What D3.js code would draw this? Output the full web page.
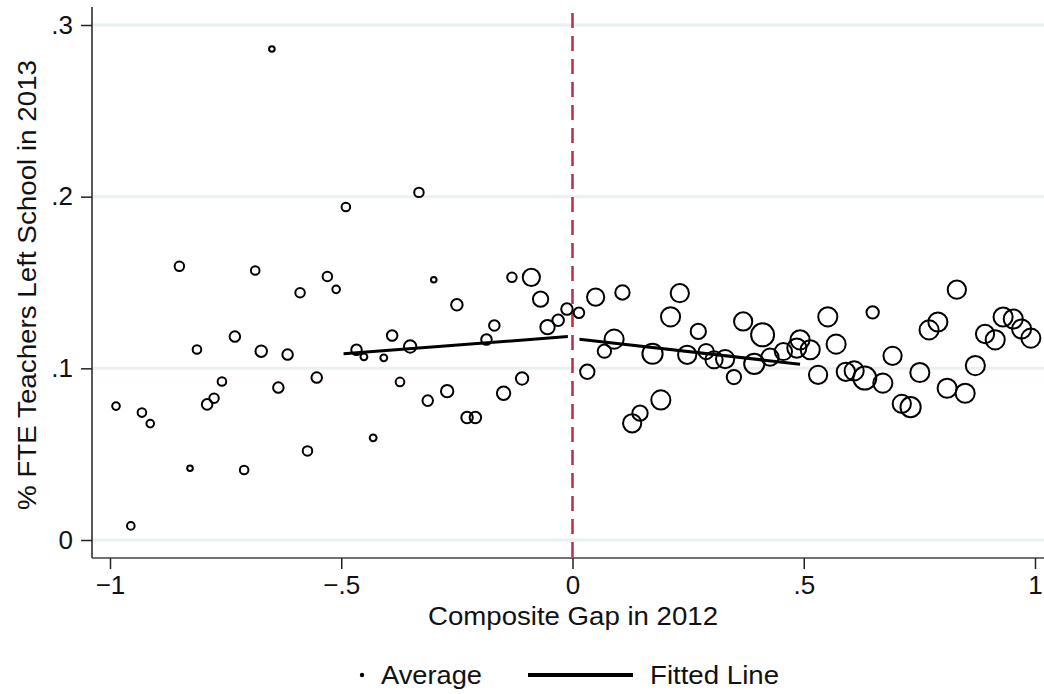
<!DOCTYPE html>
<html>
<head>
<meta charset="utf-8">
<script src="https://cdn.jsdelivr.net/npm/d3@7"></script>
<style>
  html, body { margin: 0; padding: 0; background: #fff; }
  svg text { font-family: "Liberation Sans", Arial, Helvetica, sans-serif; fill: #111; }
</style>
</head>
<body>
<svg id="chart" width="1044" height="694"></svg>
<script>
// Binned averages: composite gap (2012) vs share of FTE teachers who left (2013)
const gap = [
  -0.987, -0.955, -0.931, -0.913, -0.850, -0.827, -0.812, -0.790, -0.775, -0.758,
  -0.730, -0.710, -0.686, -0.673, -0.650, -0.636, -0.616, -0.589, -0.573, -0.553,
  -0.530, -0.511, -0.490, -0.467, -0.451, -0.431, -0.408, -0.390, -0.373, -0.351,
  -0.332, -0.313, -0.300, -0.271, -0.250, -0.228, -0.210, -0.186, -0.169, -0.149,
  -0.131, -0.109, -0.089, -0.069, -0.054, -0.031, -0.012,
   0.014,  0.032,  0.050,  0.069,  0.090,  0.108,  0.129,  0.146,  0.173,  0.191,
   0.212,  0.232,  0.248,  0.272,  0.289,  0.306,  0.330,  0.349,  0.369,  0.393,
   0.411,  0.427,  0.456,  0.485,  0.492,  0.514,  0.531,  0.552,  0.570,  0.591,
   0.609,  0.632,  0.649,  0.671,  0.692,  0.712,  0.731,  0.751,  0.771,  0.790,
   0.810,  0.831,  0.849,  0.871,  0.892,  0.914,  0.931,  0.953,  0.971,  0.991
];
const leftShare = [
  0.0780, 0.0082, 0.0742, 0.0678, 0.1594, 0.0418, 0.1110, 0.0790, 0.0826, 0.0923,
  0.1185, 0.0408, 0.1570, 0.1100, 0.2860, 0.0888, 0.1080, 0.1440, 0.0519, 0.0946,
  0.1535, 0.1460, 0.1940, 0.1108, 0.1067, 0.0595, 0.1061, 0.1191, 0.0921, 0.1127,
  0.2025, 0.0812, 0.1516, 0.0867, 0.1370, 0.0713, 0.0713, 0.1168, 0.1250, 0.0855,
  0.1530, 0.0941, 0.1530, 0.1403, 0.1240, 0.1280, 0.1345,
  0.1324, 0.0980, 0.1415, 0.1100, 0.1170, 0.1442, 0.0680, 0.0739, 0.1085, 0.0816,
  0.1300, 0.1438, 0.1079, 0.1215, 0.1098, 0.1050, 0.1054, 0.0949, 0.1273, 0.1026,
  0.1195, 0.1065, 0.1098, 0.1118, 0.1166, 0.1108, 0.0962, 0.1300, 0.1141, 0.0980,
  0.0985, 0.0943, 0.1326, 0.0914, 0.1073, 0.0793, 0.0774, 0.0976, 0.1224, 0.1270,
  0.0884, 0.1458, 0.0855, 0.1016, 0.1200, 0.1166, 0.1299, 0.1287, 0.1229, 0.1176
];
// Number of schools in each bin (marker weight)
const binCount = [
  11, 11, 14, 11, 17,  6, 14, 21, 17, 14,
  21, 14, 14, 25,  6, 21, 21, 17, 17, 21,
  17, 11, 14, 21,  9,  9,  9, 21, 14, 29,
  17, 21,  6, 29, 25, 25, 25, 21, 21, 34,
  17, 29, 56, 44, 39, 25, 25,
  21, 39, 56, 34, 69, 39, 63, 44, 77, 69,
  69, 63, 63, 44, 44, 56, 63, 39, 63, 77,
  100, 56, 56, 69, 69, 69, 63, 69, 69, 63,
  69, 100, 29, 69, 63, 63, 77, 69, 69, 69,
  69, 63, 69, 69, 63, 69, 69, 69, 69, 69
];

// Linear fits on each side of the cutoff: [x0, x1] and [y0, y1]
const fitLeftX = [-0.495, -0.010];
const fitLeftY = [0.1085, 0.1185];
const fitRightX = [0.015, 0.492];
const fitRightY = [0.1170, 0.1024];

const xTicks = [-1, -0.5, 0, 0.5, 1];
const xTickLabels = ["\u22121", "\u2212.5", "0", ".5", "1"];
const yTicks = [0, 0.1, 0.2, 0.3];
const yTickLabels = ["0", ".1", ".2", ".3"];
const cutoff = 0;

const svg = d3.select("#chart");
const W = 1044, H = 694;
const plot = { left: 92, right: 1044, top: 7, bottom: 558 };
const FS = "26px";

const x = d3.scaleLinear().domain([-1, 1]).range([110, 1035]);
const y = d3.scaleLinear().domain([0, 0.3]).range([540, 25]);
const r = d3.scaleSqrt().domain([0, 100]).range([0, 11.5]);

svg.append("rect").attr("width", W).attr("height", H).attr("fill", "#fff");

// horizontal grid lines
svg.append("g").selectAll("line").data(yTicks).join("line")
  .attr("x1", plot.left).attr("x2", plot.right)
  .attr("y1", d => y(d)).attr("y2", d => y(d))
  .attr("stroke", "#e9f0f2").attr("stroke-width", 3);

// axes
const yAxis = d3.axisLeft(y).tickValues(yTicks)
  .tickFormat((d, i) => yTickLabels[i]).tickSize(11).tickPadding(8);
const gy = svg.append("g").attr("transform", `translate(${plot.left},0)`).call(yAxis);
gy.select(".domain").attr("d", `M0,${plot.top}V${plot.bottom}`).attr("stroke", "#222").attr("stroke-width", 1.5);
gy.selectAll(".tick line").attr("stroke", "#222").attr("stroke-width", 1.5);
gy.selectAll(".tick text").style("font-size", FS).attr("fill", "#111")
  .attr("font-family", "Liberation Sans, Arial, sans-serif");

const xAxis = d3.axisBottom(x).tickValues(xTicks)
  .tickFormat((d, i) => xTickLabels[i]).tickSize(11).tickPadding(7);
const gx = svg.append("g").attr("transform", `translate(0,${plot.bottom})`).call(xAxis);
gx.select(".domain").attr("d", `M${plot.left},0H${plot.right}`).attr("stroke", "#444").attr("stroke-width", 1.5);
gx.selectAll(".tick line").attr("stroke", "#222").attr("stroke-width", 1.5);
gx.selectAll(".tick text").style("font-size", FS).attr("fill", "#111")
  .attr("font-family", "Liberation Sans, Arial, sans-serif");

// cutoff line
svg.append("line")
  .attr("x1", x(cutoff)).attr("x2", x(cutoff))
  .attr("y1", 13).attr("y2", plot.bottom)
  .attr("stroke", "#b3394a").attr("stroke-width", 2.6)
  .attr("stroke-dasharray", "15,8");

// binned averages
const pts = gap.map((g, i) => ({ g, s: leftShare[i], n: binCount[i] }));
svg.append("g").selectAll("circle").data(pts).join("circle")
  .attr("cx", d => x(d.g)).attr("cy", d => y(d.s)).attr("r", d => r(d.n))
  .attr("fill", "none").attr("stroke", "#000").attr("stroke-width", 2);

// fitted lines
const line = d3.line().x(d => x(d[0])).y(d => y(d[1]));
[[fitLeftX, fitLeftY], [fitRightX, fitRightY]].forEach(([fx, fy]) => {
  svg.append("path")
    .attr("d", line(fx.map((v, i) => [v, fy[i]])))
    .attr("fill", "none").attr("stroke", "#000").attr("stroke-width", 3);
});

// axis titles
svg.append("text").attr("x", 573).attr("y", 625).attr("text-anchor", "middle")
  .style("font-size", FS).attr("textLength", 290).attr("lengthAdjust", "spacingAndGlyphs")
  .text("Composite Gap in 2012");
svg.append("text")
  .attr("transform", "translate(36,285) rotate(-90)")
  .attr("text-anchor", "middle").style("font-size", FS)
  .attr("textLength", 450).attr("lengthAdjust", "spacingAndGlyphs")
  .text("% FTE Teachers Left School in 2013");

// legend
const leg = svg.append("g");
leg.append("circle").attr("cx", 362).attr("cy", 675).attr("r", 2.2).attr("fill", "#000");
leg.append("text").attr("x", 381).attr("y", 684).style("font-size", FS)
  .attr("textLength", 101).attr("lengthAdjust", "spacingAndGlyphs").text("Average");
leg.append("line").attr("x1", 528).attr("x2", 633).attr("y1", 675).attr("y2", 675)
  .attr("stroke", "#000").attr("stroke-width", 4);
leg.append("text").attr("x", 650).attr("y", 684).style("font-size", FS)
  .attr("textLength", 129).attr("lengthAdjust", "spacingAndGlyphs").text("Fitted Line");
</script>
</body>
</html>
